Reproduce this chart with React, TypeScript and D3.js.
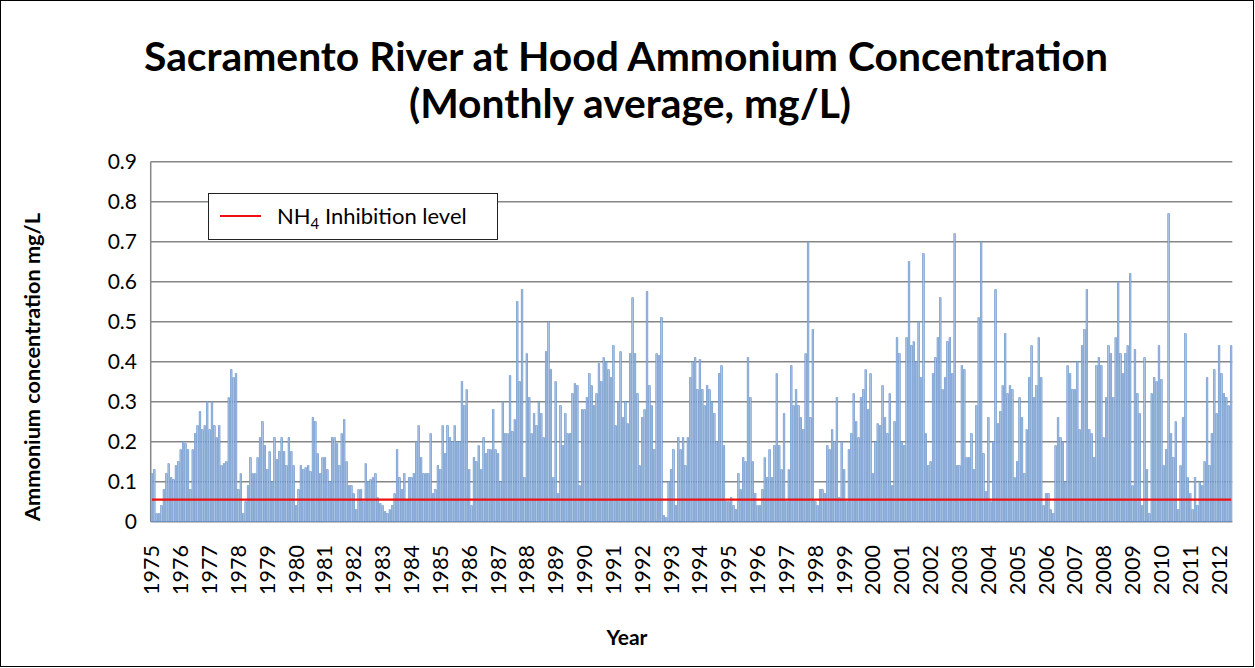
import React from "react";
import * as d3 from "d3";

// Monthly average NH4 (mg/L), Sacramento River at Hood, Jan 1975 – Jun 2012
const nh4_1975_1979 = [
  0.12, 0.13, 0.02, 0.02, 0.04, 0.08, 0.12, 0.145, 0.11, 0.105, 0.14, 0.15,
  0.18, 0.2, 0.195, 0.18, 0.08, 0.18, 0.22, 0.24, 0.275, 0.23, 0.24, 0.3,
  0.23, 0.3, 0.24, 0.21, 0.24, 0.14, 0.145, 0.15, 0.31, 0.38, 0.36, 0.37,
  0.08, 0.12, 0.02, 0.05, 0.09, 0.16, 0.12, 0.12, 0.16, 0.21, 0.25, 0.19,
  0.13, 0.175, 0.1, 0.21, 0.155, 0.175, 0.21, 0.175, 0.14, 0.21, 0.175, 0.14,
];
const nh4_1980_1984 = [
  0.04, 0.08, 0.14, 0.13, 0.135, 0.14, 0.125, 0.26, 0.25, 0.17, 0.12, 0.16,
  0.16, 0.13, 0.1, 0.21, 0.21, 0.195, 0.14, 0.22, 0.255, 0.15, 0.09, 0.09,
  0.07, 0.03, 0.08, 0.08, 0.05, 0.145, 0.1, 0.105, 0.11, 0.12, 0.06, 0.045,
  0.04, 0.025, 0.02, 0.03, 0.04, 0.07, 0.18, 0.11, 0.08, 0.12, 0.055, 0.11,
  0.11, 0.12, 0.2, 0.24, 0.16, 0.12, 0.12, 0.12, 0.22, 0.07, 0.08, 0.14,
];
const nh4_1985_1989 = [
  0.13, 0.24, 0.17, 0.24, 0.21, 0.2, 0.24, 0.2, 0.2, 0.35, 0.29, 0.33,
  0.13, 0.04, 0.16, 0.15, 0.19, 0.13, 0.21, 0.17, 0.18, 0.18, 0.28, 0.18,
  0.17, 0.1, 0.3, 0.22, 0.22, 0.365, 0.225, 0.255, 0.55, 0.35, 0.58, 0.11,
  0.42, 0.31, 0.22, 0.27, 0.24, 0.3, 0.27, 0.21, 0.425, 0.5, 0.38, 0.11,
  0.35, 0.07, 0.29, 0.19, 0.27, 0.22, 0.22, 0.32, 0.345, 0.34, 0.09, 0.28,
];
const nh4_1990_1994 = [
  0.28, 0.31, 0.37, 0.34, 0.29, 0.32, 0.395, 0.35, 0.41, 0.4, 0.38, 0.36,
  0.44, 0.24, 0.3, 0.425, 0.26, 0.3, 0.245, 0.42, 0.56, 0.42, 0.32, 0.14,
  0.26, 0.28, 0.575, 0.34, 0.29, 0.18, 0.42, 0.415, 0.51, 0.015, 0.01, 0.1,
  0.13, 0.18, 0.04, 0.21, 0.18, 0.21, 0.14, 0.21, 0.36, 0.4, 0.41, 0.33,
  0.405, 0.33, 0.29, 0.34, 0.33, 0.3, 0.27, 0.2, 0.37, 0.39, 0.19, 0.05,
];
const nh4_1995_1999 = [
  0.05, 0.06, 0.04, 0.03, 0.12, 0.08, 0.16, 0.15, 0.41, 0.31, 0.15, 0.07,
  0.04, 0.04, 0.08, 0.16, 0.11, 0.18, 0.11, 0.19, 0.37, 0.19, 0.13, 0.27,
  0.05, 0.13, 0.39, 0.29, 0.33, 0.29, 0.26, 0.23, 0.42, 0.7, 0.26, 0.48,
  0.05, 0.04, 0.08, 0.08, 0.07, 0.19, 0.18, 0.23, 0.2, 0.31, 0.06, 0.2,
  0.13, 0.05, 0.18, 0.22, 0.32, 0.25, 0.21, 0.31, 0.33, 0.38, 0.28, 0.37,
];
const nh4_2000_2004 = [
  0.12, 0.2, 0.245, 0.24, 0.34, 0.26, 0.22, 0.32, 0.09, 0.25, 0.46, 0.42,
  0.2, 0.19, 0.46, 0.65, 0.44, 0.45, 0.4, 0.5, 0.36, 0.67, 0.22, 0.14,
  0.15, 0.37, 0.41, 0.46, 0.56, 0.33, 0.36, 0.45, 0.46, 0.37, 0.72, 0.14,
  0.14, 0.39, 0.38, 0.16, 0.16, 0.22, 0.13, 0.29, 0.51, 0.7, 0.17, 0.075,
  0.26, 0.05, 0.2, 0.58, 0.245, 0.275, 0.34, 0.47, 0.32, 0.34, 0.33, 0.11,
];
const nh4_2005_2009 = [
  0.15, 0.31, 0.26, 0.12, 0.23, 0.36, 0.44, 0.31, 0.34, 0.46, 0.36, 0.04,
  0.07, 0.07, 0.03, 0.02, 0.19, 0.26, 0.21, 0.2, 0.1, 0.39, 0.37, 0.33,
  0.33, 0.4, 0.23, 0.44, 0.48, 0.58, 0.23, 0.22, 0.16, 0.39, 0.41, 0.39,
  0.21, 0.31, 0.44, 0.42, 0.31, 0.46, 0.6, 0.42, 0.37, 0.42, 0.44, 0.62,
  0.09, 0.43, 0.32, 0.27, 0.04, 0.41, 0.13, 0.02, 0.32, 0.36, 0.35, 0.44,
];
const nh4_2010_2012 = [
  0.355, 0.14, 0.18, 0.77, 0.22, 0.16, 0.25, 0.03, 0.14, 0.26, 0.47, 0.11,
  0.07, 0.03, 0.11, 0.04, 0.1, 0.09, 0.15, 0.36, 0.14, 0.22, 0.38, 0.27,
  0.44, 0.37, 0.32, 0.31, 0.29, 0.44,
];

const firstYear = 1975;
const yearLabels = d3.range(1975, 2013).map(String);
const yTicks = [0, 0.1, 0.2, 0.3, 0.4, 0.5, 0.6, 0.7, 0.8, 0.9];
const inhibitionLevel = 0.055;

const monthly = [
  ...nh4_1975_1979,
  ...nh4_1980_1984,
  ...nh4_1985_1989,
  ...nh4_1990_1994,
  ...nh4_1995_1999,
  ...nh4_2000_2004,
  ...nh4_2005_2009,
  ...nh4_2010_2012,
];

const FONT = "Lato, 'Open Sans', sans-serif";

export default function App() {
  const W = 1255;
  const H = 668;
  const left = 150.7;
  const right = 1232.3;
  const top = 161.7;
  const bottom = 521.7;

  const x = d3
    .scaleBand<number>()
    .domain(d3.range(monthly.length))
    .range([left, right])
    .paddingInner(0.3)
    .paddingOuter(0.15);
  const y = d3.scaleLinear().domain([0, 0.9]).range([bottom, top]);

  const line = d3
    .line<number>()
    .x((_, i) => (x(i) as number) + x.bandwidth() / 2)
    .y(() => y(inhibitionLevel));

  const fmt = (v: number) => (v === 0 ? "0" : d3.format(".1f")(v));

  return (
    <>
      <style>{`body{margin:0}`}</style>
      <svg width={W} height={H} style={{ display: "block", fontFamily: FONT }}>
        <rect x={0} y={0} width={W} height={H} fill="#fff" />
        <rect x={0.5} y={0.5} width={W - 2} height={H - 2} fill="none" stroke="#000" strokeWidth={1} />

        {/* Title */}
        <text x={626} y={71} textAnchor="middle" fontSize={40.8} fontWeight="bold" fill="#000">
          Sacramento River at Hood Ammonium Concentration
        </text>
        <text x={630} y={118} textAnchor="middle" fontSize={40.8} fontWeight="bold" fill="#000">
          (Monthly average, mg/L)
        </text>

        {/* Gridlines */}
        {yTicks.map((t) => (
          <line key={t} x1={left} x2={right} y1={y(t)} y2={y(t)} stroke="#868686" strokeWidth={1.5} />
        ))}
        <line x1={left} x2={left} y1={top} y2={bottom} stroke="#868686" strokeWidth={1.5} />

        {/* Bars */}
        {monthly.map((v, i) => (
          <rect
            key={i}
            x={x(i)}
            y={y(v)}
            width={x.bandwidth()}
            height={bottom - y(v)}
            fill="#adc5e4"
            stroke="#5f8cc6"
            strokeWidth={0.6}
          />
        ))}

        {/* Inhibition level */}
        <path d={line(monthly) || ""} fill="none" stroke="#ee1111" strokeWidth={2.2} />

        {/* Y tick labels */}
        {yTicks.map((t) => (
          <text key={t} x={137} y={y(t)} dy="0.35em" textAnchor="end" fontSize={21} fill="#000">
            {fmt(t)}
          </text>
        ))}

        {/* X year labels */}
        {yearLabels.map((yr) => {
          const i = (Number(yr) - firstYear) * 12;
          const cx = (x(i) as number) + x.bandwidth() / 2;
          return (
            <text
              key={yr}
              transform={`translate(${cx},545) rotate(-90)`}
              dy="0.35em"
              textAnchor="end"
              fontSize={21.5}
              fill="#000"
            >
              {yr}
            </text>
          );
        })}

        {/* Axis titles */}
        <text
          transform={`translate(40,367) rotate(-90)`}
          textAnchor="middle"
          fontSize={21.7}
          fontWeight="bold"
          fill="#000"
        >
          Ammonium concentration mg/L
        </text>
        <text x={627} y={645} textAnchor="middle" fontSize={21} fontWeight="bold" fill="#000">
          Year
        </text>

        {/* Legend */}
        <rect x={208.5} y={193.5} width={289} height={46} fill="#fff" stroke="#222" strokeWidth={1} />
        <line x1={220} x2={261} y1={216} y2={216} stroke="#ee1111" strokeWidth={2.2} />
        <text x={277} y={224} fontSize={22} fill="#000">
          NH<tspan fontSize={15} dy={5}>4</tspan>
          <tspan dy={-5}> Inhibition level</tspan>
        </text>
      </svg>
    </>
  );
}
